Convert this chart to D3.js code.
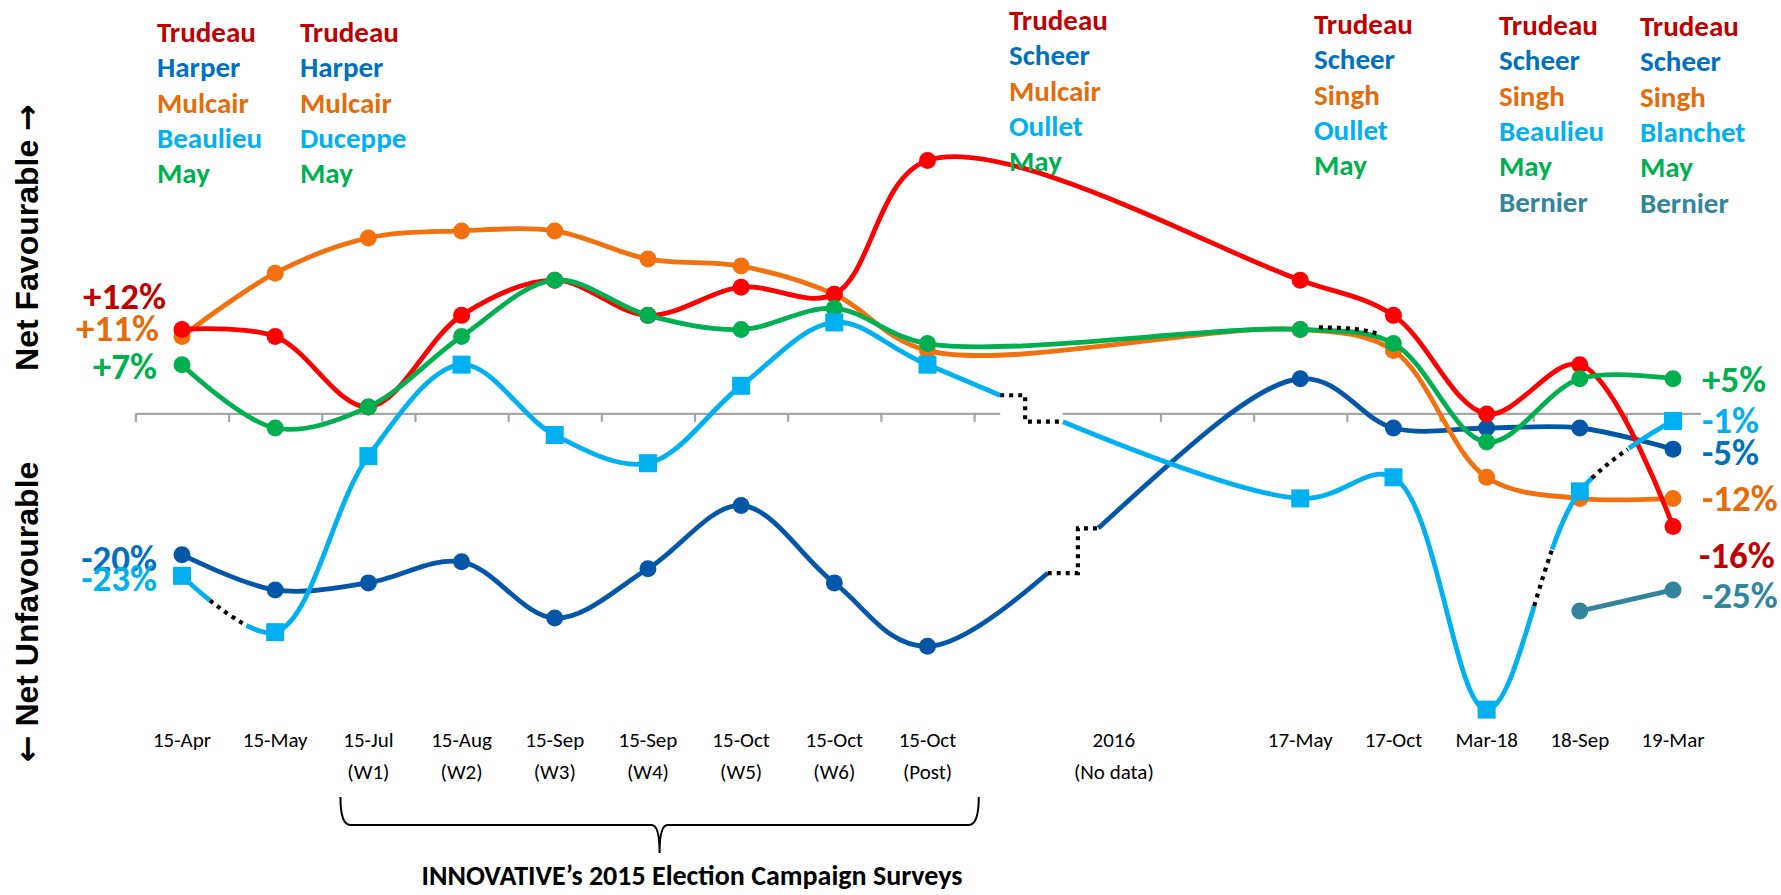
<!DOCTYPE html>
<html>
<head>
<meta charset="utf-8">
<script src="https://cdn.jsdelivr.net/npm/d3@7"></script>
<style>
    body { margin: 0; background: #fff; }
    svg text { font-family: Carlito, Lato, sans-serif; }
</style>
</head>
<body>
<svg id="chart" width="1781" height="895"></svg>
<script>
// categories (empty entries are spacer slots around 2016)
const categories = [["15-Apr"], ["15-May"], ["15-Jul", "(W1)"], ["15-Aug", "(W2)"], ["15-Sep", "(W3)"],
    ["15-Sep", "(W4)"], ["15-Oct", "(W5)"], ["15-Oct", "(W6)"], ["15-Oct", "(Post)"], [],
    ["2016", "(No data)"], [], ["17-May"], ["17-Oct"], ["Mar-18"], ["18-Sep"], ["19-Mar"]];

// net favourability (%) per leader / party
const liberal      = [12, 11, 1, 14, 19, 14, 18, 17, 36, null, null, null, 19, 14, 0, 7, -16];
const conservative = [-20, -25, -24, -21, -29, -22, -13, -24, -33, null, null, null, 5, -2, -2, -2, -5];
const ndp          = [11, 20, 25, 26, 26, 22, 21, 17, 9, null, null, null, 12, 9, -9, -12, -12];
const greenParty   = [7, -2, 1, 11, 19, 14, 12, 15, 10, null, null, null, 12, 10, -4, 5, 5];
const bloc         = [-23, -31, -6, 7, -3, -7, 4, 13, 7, null, null, null, -12, -9, -42, -11, -1];
const ppc          = [null, null, null, null, null, null, null, null, null, null, null, null, null, null, null, -28, -25];

// leader names shown above the chart
const legendNames = [
    ["Trudeau", "Harper", "Mulcair", "Beaulieu", "May"],
    ["Trudeau", "Harper", "Mulcair", "Duceppe", "May"],
    ["Trudeau", "Scheer", "Mulcair", "Oullet", "May"],
    ["Trudeau", "Scheer", "Singh", "Oullet", "May"],
    ["Trudeau", "Scheer", "Singh", "Beaulieu", "May", "Bernier"],
    ["Trudeau", "Scheer", "Singh", "Blanchet", "May", "Bernier"]
];
const legendColors = ["#c00000", "#0070c0", "#e46c0a", "#00b0f0", "#00b050", "#31859c"];
const legendPos = [[157, 32], [300, 32], [1009, 20], [1314, 24], [1499, 25], [1640, 26]];

const svg = d3.select("#chart");

var x = d3.scaleLinear().domain([0, 16]).range([182, 1673]);
var y = d3.scaleLinear().domain([-42, 36]).range([709.6, 160.5]);

// axis gap (in category units) where 2016 sits
const axisGap = [8.78, 9.45];

// ---- zero axis with ticks between categories
var boundaries = d3.range(-0.5, 16, 1).filter(b => b < axisGap[0] || b > axisGap[1] + 0.1);
var axisG = svg.append("g")
    .attr("transform", "translate(0," + y(0) + ")")
    .call(d3.axisBottom(x).tickValues(boundaries).tickFormat("").tickSizeInner(8).tickSizeOuter(0));
axisG.select(".domain")
    .attr("d", "M" + x(-0.5) + ",0H" + x(axisGap[0]) + "M" + x(axisGap[1]) + ",0H" + x(16.3))
    .attr("stroke", "#a6a6a6").attr("stroke-width", 2.2);
axisG.selectAll(".tick line").attr("stroke", "#a6a6a6").attr("stroke-width", 2.2);

// category labels
categories.forEach((lines, i) => {
    lines.forEach((t, j) => {
        svg.append("text")
            .attr("x", x(i))
            .attr("y", 747 + j * 32)
            .attr("text-anchor", "middle")
            .attr("font-size", "21px")
            .attr("fill", "#000")
            .text(t);
    });
});

// series, in drawing order
const series = [
    {key: "cons", values: conservative, color: "#0456a8", label: "#0070c0", shape: "circle", startDx: -25, startDy: 3, endDy: 3},
    {key: "ndp", values: ndp, color: "#f2700e", label: "#e46c0a", shape: "circle", startDx: -23, startDy: -8, endDy: 0},
    {key: "lib", values: liberal, color: "#ff0000", label: "#c00000", shape: "circle", startDx: -16, startDy: -33, endDy: 28, endDx: 26},
    {key: "green", values: greenParty, color: "#00b050", label: "#00b050", shape: "circle", startDx: -25, startDy: 1, endDy: 0},
    {key: "bloc", values: bloc, color: "#00b0f0", label: "#00b0f0", shape: "square", startDx: -25, startDy: 2.5, endDy: -1},
    {key: "ppc", values: ppc, color: "#31849b", label: "#31859c", shape: "circle", endDy: 5}
];

// leader changes: hidden pieces of a line drawn as black dots
const breaks = [
    {key: "bloc", type: "dots", from: 0.30, to: 0.69},
    {key: "bloc", type: "step", from: axisGap[0], to: axisGap[1], mid: 0.4},
    {key: "bloc", type: "dots", from: 14.51, to: 14.70},
    {key: "bloc", type: "dots", from: 15.13, to: 15.52},
    {key: "cons", type: "step", from: 9.29, to: 9.83, mid: 0.6},
    {key: "green", type: "overlay", from: 12.2, to: 12.82, dy: -3}
];

var line = d3.line()
    .x(d => x(d.i))
    .y(d => y(d.v))
    .curve(d3.curveCatmullRom.alpha(0.5));

function lengthAtX(node, xt) {
    var lo = 0, hi = node.getTotalLength();
    for (var k = 0; k < 40; k++) {
        var mid = (lo + hi) / 2;
        if (node.getPointAtLength(mid).x < xt) lo = mid; else hi = mid;
    }
    return (lo + hi) / 2;
}

var paths = {};
series.forEach(s => {
    var pts = s.values.map((v, i) => ({i: i, v: v})).filter(d => d.v !== null);
    var g = svg.append("g");
    var p = g.append("path")
        .datum(pts)
        .attr("d", line)
        .attr("fill", "none")
        .attr("stroke", s.color)
        .attr("stroke-width", 4.8)
        .attr("stroke-linecap", "butt");
    paths[s.key] = p.node();

    // hide broken pieces
    var node = p.node();
    var total = node.getTotalLength();
    var hide = breaks.filter(b => b.key == s.key && b.type != "overlay")
        .map(b => [lengthAtX(node, x(b.from)), lengthAtX(node, x(b.to))])
        .sort((a, b) => a[0] - b[0]);
    if (hide.length) {
        var arr = [], pos = 0;
        hide.forEach(h => { arr.push(h[0] - pos, h[1] - h[0]); pos = h[1]; });
        arr.push(total - pos + 1, total);
        p.attr("stroke-dasharray", arr.join(","));
    }

    if (s.shape == "circle") {
        g.selectAll("circle").data(pts).enter().append("circle")
            .attr("cx", d => x(d.i)).attr("cy", d => y(d.v))
            .attr("r", 8.5).attr("fill", s.color);
    } else {
        g.selectAll("rect").data(pts).enter().append("rect")
            .attr("x", d => x(d.i) - 9).attr("y", d => y(d.v) - 9)
            .attr("width", 18).attr("height", 18).attr("fill", s.color);
    }
});

// dotted pieces
var dotG = svg.append("g");
breaks.forEach(b => {
    var node = paths[b.key];
    var la = lengthAtX(node, x(b.from)), lb = lengthAtX(node, x(b.to));
    var d;
    if (b.type == "step") {
        var pa = node.getPointAtLength(la), pb = node.getPointAtLength(lb);
        var xm = pa.x + b.mid * (pb.x - pa.x);
        d = "M" + pa.x + "," + pa.y + "H" + xm + "V" + pb.y + "H" + pb.x;
    } else {
        var pts = [];
        for (var L = la; L <= lb; L += 1) {
            var q = node.getPointAtLength(L);
            pts.push(q.x + "," + (q.y + (b.dy || 0)));
        }
        d = "M" + pts.join("L");
    }
    dotG.append("path")
        .attr("d", d)
        .attr("fill", "none")
        .attr("stroke", "#000")
        .attr("stroke-width", 4.2)
        .attr("stroke-dasharray", "4,5");
});

// value labels at both ends
var fmt = v => (v > 0 ? "+" : "") + v + "%";
series.forEach(s => {
    var first = s.values[0], last = s.values[s.values.length - 1];
    if (first !== null) {
        svg.append("text")
            .attr("x", x(0) + s.startDx)
            .attr("y", y(first) + s.startDy + 13)
            .attr("text-anchor", "end")
            .attr("font-size", "37px").attr("font-weight", "bold")
            .attr("fill", s.label)
            .text(fmt(first));
    }
    if (last !== null) {
        svg.append("text")
            .attr("x", x(16) + (s.endDx || 29))
            .attr("y", y(last) + s.endDy + 13)
            .attr("font-size", "37px").attr("font-weight", "bold")
            .attr("fill", s.label)
            .text(fmt(last));
    }
});

// leader names
legendNames.forEach((col, c) => {
    col.forEach((name, r) => {
        svg.append("text")
            .attr("x", legendPos[c][0])
            .attr("y", legendPos[c][1] + r * 35.3 + 10)
            .attr("font-size", "29px").attr("font-weight", "bold")
            .attr("fill", legendColors[r])
            .text(name);
    });
});

// brace under the 2015 campaign waves
var xl = x(1.7), xr = x(8.55), xm = (xl + xr) / 2;
svg.append("path")
    .attr("d", "M" + xl + ",797 Q" + xl + ",825 " + (xl + 10) + ",825 H" + (xm - 8) +
        " Q" + xm + ",825 " + xm + ",853 Q" + xm + ",825 " + (xm + 8) + ",825 H" + (xr - 10) +
        " Q" + xr + ",825 " + xr + ",797")
    .attr("fill", "none").attr("stroke", "#000").attr("stroke-width", 2);

svg.append("text")
    .attr("x", 692).attr("y", 885)
    .attr("text-anchor", "middle")
    .attr("font-size", "28px").attr("font-weight", "bold")
    .text("INNOVATIVE\u2019s 2015 Election Campaign Surveys");

// y axis captions (arrow glyph from DejaVu, which has a full-size arrow)
var up = svg.append("text")
    .attr("transform", "translate(38,237.5) rotate(-90)")
    .attr("text-anchor", "middle")
    .style("font-family", "'Liberation Sans', Arial, sans-serif")
    .attr("font-size", "32px").attr("font-weight", "bold");
up.append("tspan").text("Net Favourable ");
up.append("tspan").style("font-family", "'DejaVu Sans', sans-serif").text("\u2192");

var down = svg.append("text")
    .attr("transform", "translate(38,612) rotate(-90)")
    .attr("text-anchor", "middle")
    .style("font-family", "'Liberation Sans', Arial, sans-serif")
    .attr("font-size", "32px").attr("font-weight", "bold");
down.append("tspan").style("font-family", "'DejaVu Sans', sans-serif").text("\u2190");
down.append("tspan").text(" Net Unfavourable");
</script>
</body>
</html>
